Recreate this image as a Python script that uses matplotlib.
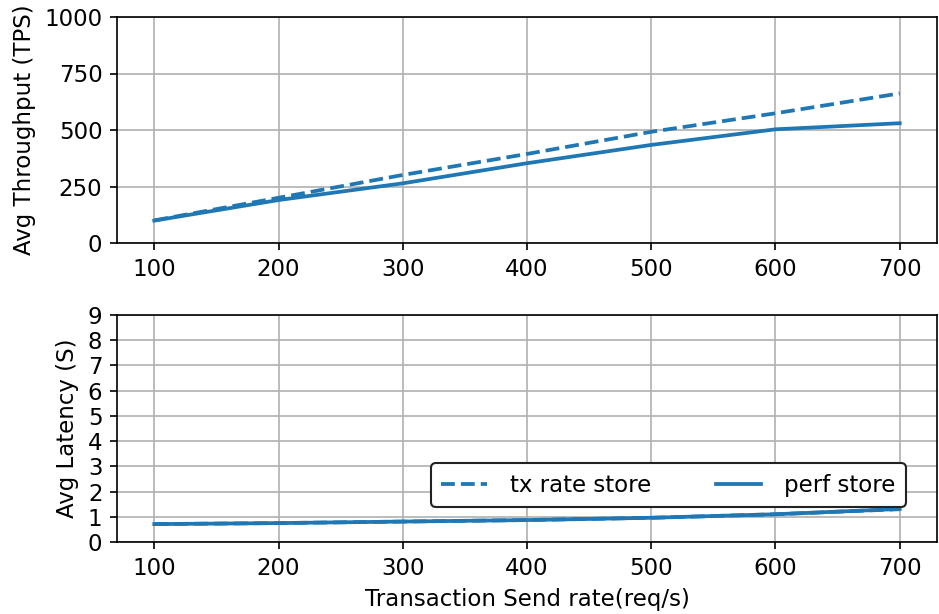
import matplotlib
matplotlib.use("Agg")
import matplotlib.pyplot as plt

rates = [100, 200, 300, 400, 500, 600, 700]
tput_tx = [100, 200, 301, 394, 492, 574, 662]
tput_perf = [99, 190, 264, 353, 434, 503, 530]
lat_tx = [0.71, 0.75, 0.81, 0.87, 0.96, 1.10, 1.30]
lat_perf = [0.71, 0.75, 0.81, 0.87, 0.96, 1.10, 1.31]

plt.rcParams['font.size'] = 11
W, H = 939, 614
fig = plt.figure(figsize=(W/150, H/150), dpi=150)
ax1 = fig.add_axes([117/W, 1-243/H, 820/W, 226/H])
ax2 = fig.add_axes([117/W, 1-542/H, 820/W, 227/H])

c = '#1f77b4'
ax1.plot(rates, tput_tx, '--', color=c, lw=1.8, label='tx rate store')
ax1.plot(rates, tput_perf, '-', color=c, lw=1.8, label='perf store')
ax1.set_ylim(0, 1000)
ax1.set_yticks([0, 250, 500, 750, 1000])
ax1.set_xlim(70, 730)
ax1.set_ylabel('Avg Throughput (TPS)')
ax1.grid(True, color='#b0b0b0')

ax2.plot(rates, lat_tx, '--', color=c, lw=1.8, label='tx rate store')
ax2.plot(rates, lat_perf, '-', color=c, lw=1.8, label='perf store')
ax2.set_ylim(0, 9)
ax2.set_yticks(range(10))
ax2.set_xlim(70, 730)
ax2.set_ylabel('Avg Latency (S)')
ax2.set_xlabel('Transaction Send rate(req/s)')
ax2.grid(True, color='#b0b0b0')
leg = ax2.legend(ncol=2, loc='lower right', bbox_to_anchor=(906/W, 1-507/H),
                 bbox_transform=fig.transFigure, borderaxespad=0, borderpad=0.45,
                 columnspacing=2.8, handlelength=2.0,
                 handletextpad=1.0, framealpha=1, edgecolor='#222222')

fig.savefig('out.png', dpi=150)
